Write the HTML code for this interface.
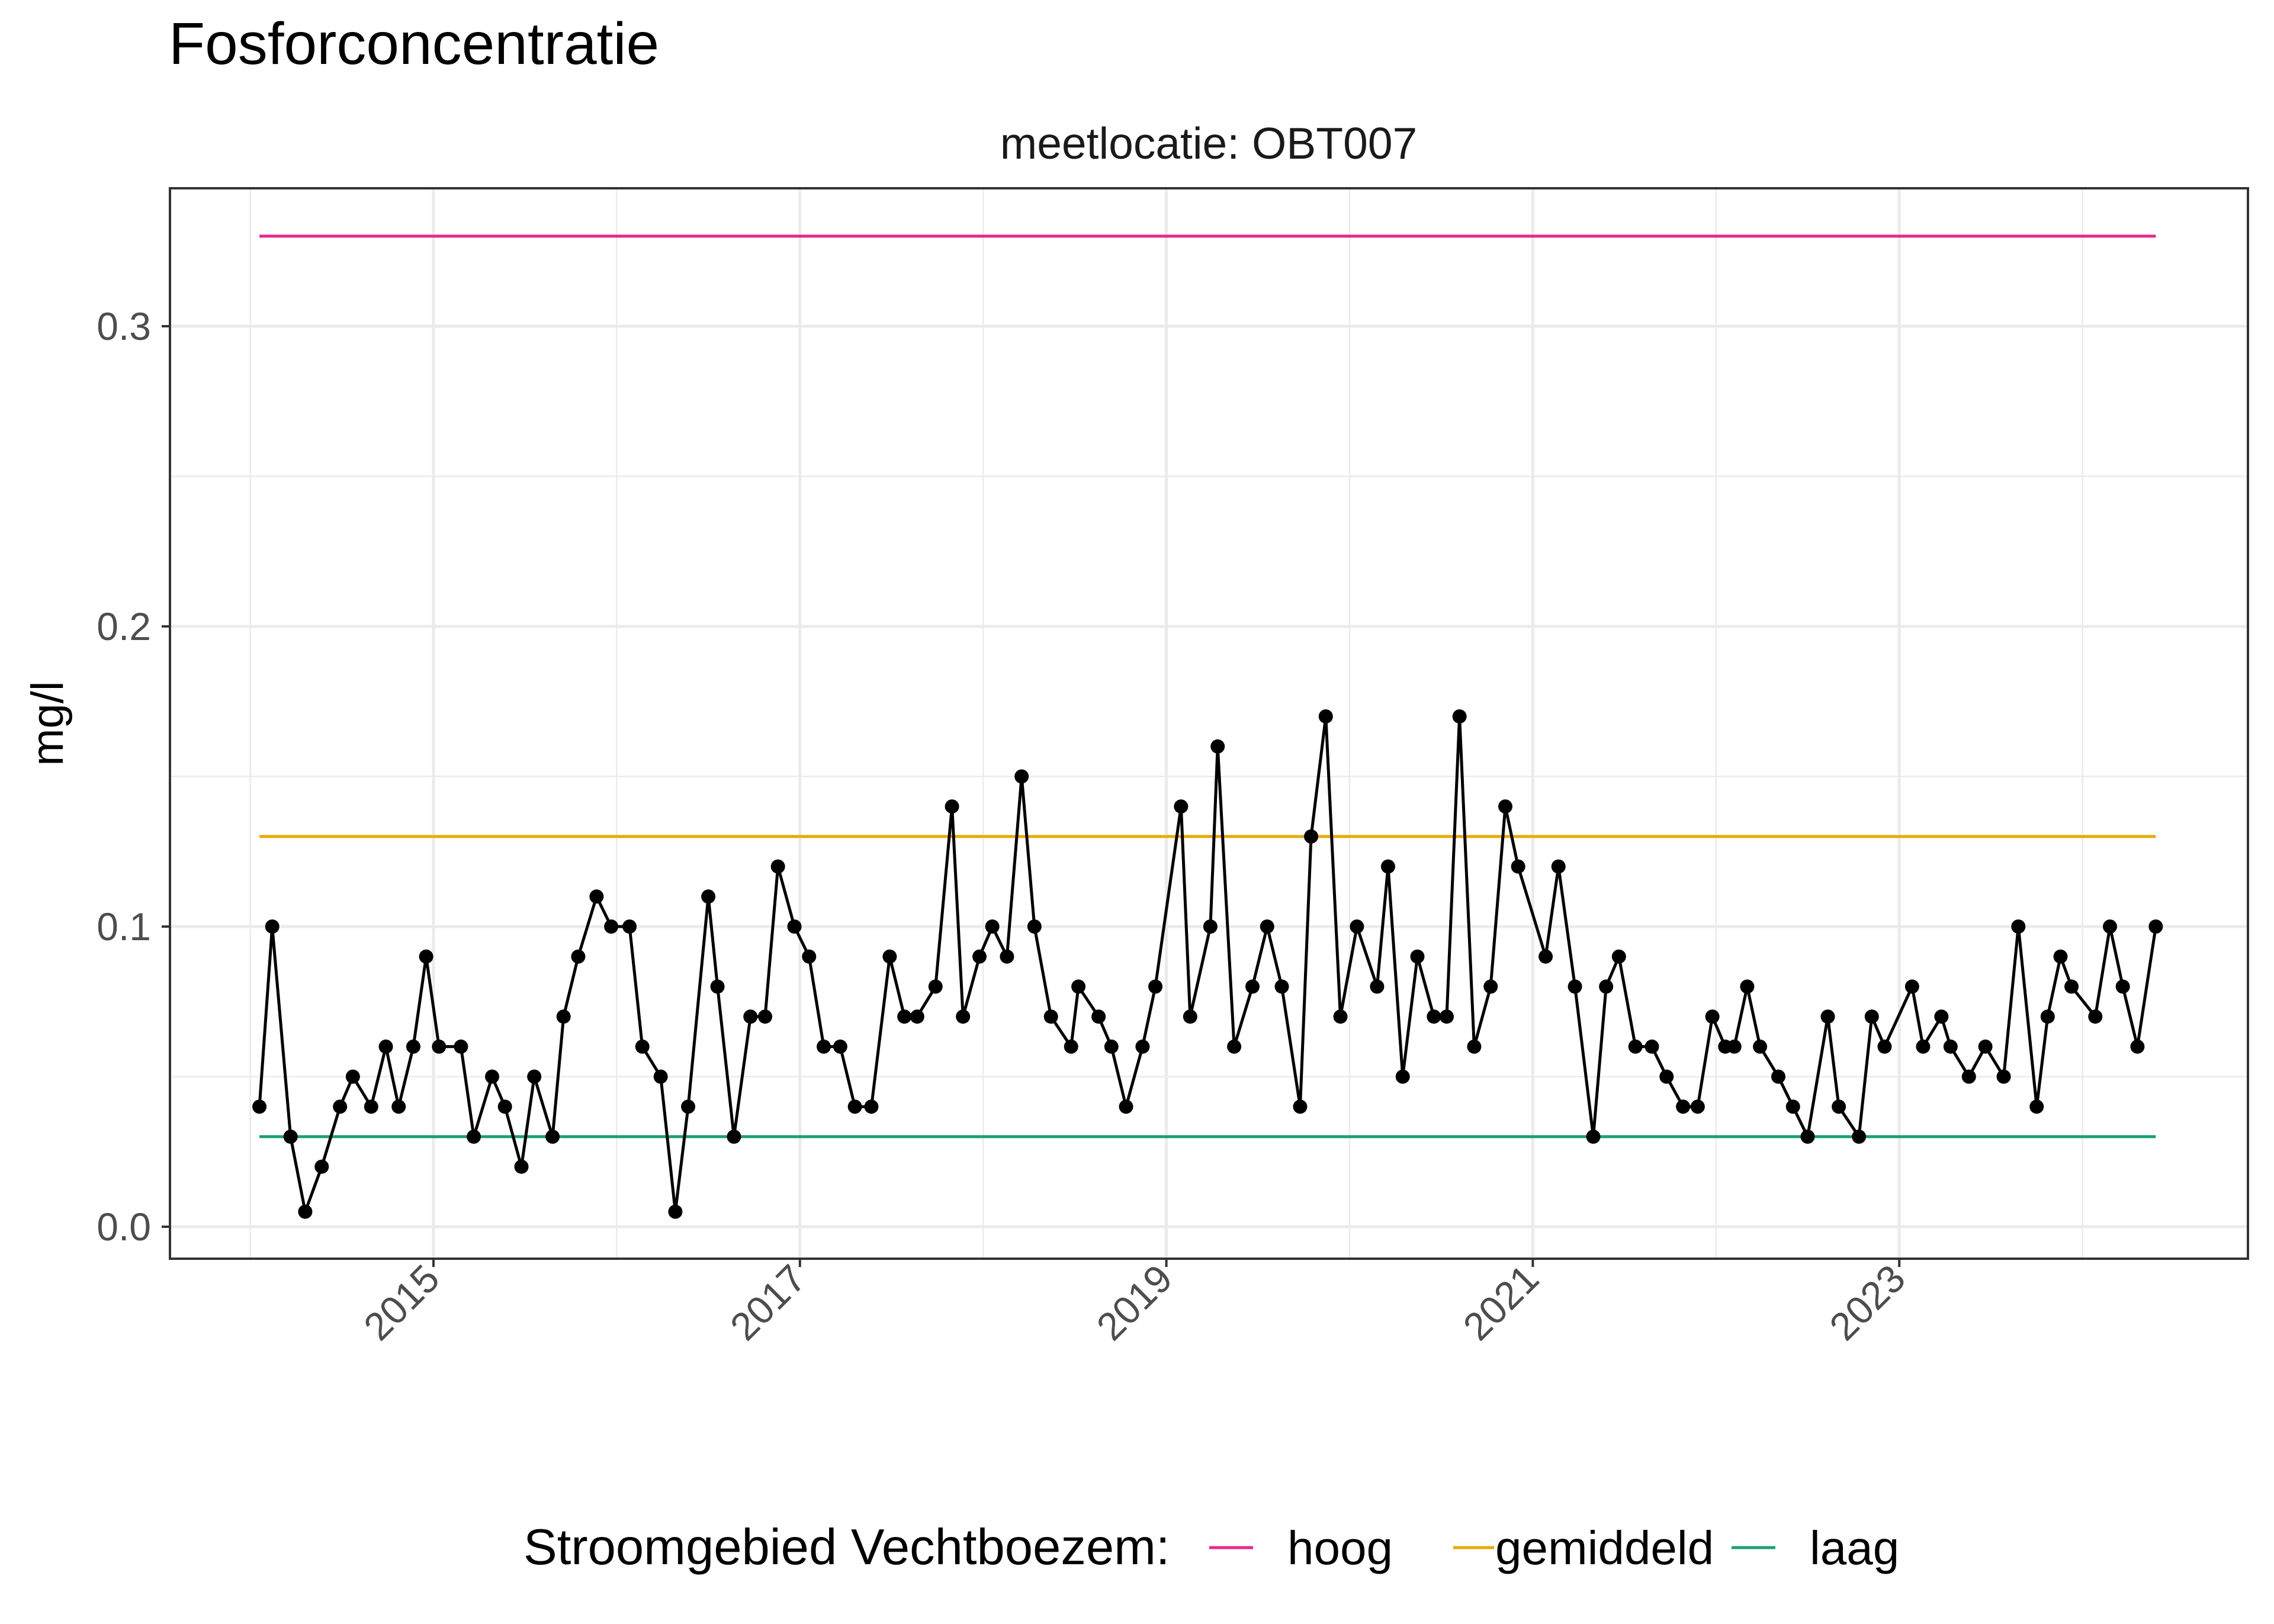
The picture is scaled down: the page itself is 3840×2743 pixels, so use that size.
<!DOCTYPE html>
<html><head><meta charset="utf-8"><style>
html,body{margin:0;padding:0;background:#fff;}
svg{display:block;font-family:"Liberation Sans",sans-serif;}
</style></head><body>
<svg id="chart" width="3840" height="2743" viewBox="0 0 3840 2743" xmlns="http://www.w3.org/2000/svg">
<rect width="3840" height="2743" fill="#fff"/>
<text x="285" y="108" font-size="100" fill="#000">Fosforconcentratie</text>
<text x="2041" y="268" font-size="75" text-anchor="middle" fill="#1a1a1a">meetlocatie: OBT007</text>
<g id="grid"></g>
<g id="refs"></g>
<g id="series"></g>
<rect x="287" y="318" width="3509" height="1808" fill="none" stroke="#333" stroke-width="4"/>
<g id="axes"></g>
<text transform="translate(106,1222) rotate(-90)" font-size="76" text-anchor="middle" fill="#000">mg/l</text>
<g>
<text x="884" y="2642" font-size="85" fill="#000">Stroomgebied Vechtboezem:</text>
<g><line x1="2042" y1="2614" x2="2116" y2="2614" stroke="#E7298A" stroke-width="5"/><text x="2174" y="2642" font-size="80" fill="#000">hoog</text></g>
<g><line x1="2454" y1="2614" x2="2523" y2="2614" stroke="#E6AB02" stroke-width="5"/><text x="2525" y="2642" font-size="80" fill="#000">gemiddeld</text></g>
<g><line x1="2924" y1="2614" x2="2998" y2="2614" stroke="#1B9E77" stroke-width="5"/><text x="3056" y="2642" font-size="80" fill="#000">laag</text></g>
</g>
</svg>
<script>
const dates=[2014.05,2014.12,2014.22,2014.30,2014.39,2014.49,2014.56,2014.66,2014.74,2014.81,2014.89,2014.96,2015.03,2015.15,2015.22,2015.32,2015.39,2015.48,2015.55,2015.65,2015.71,2015.79,2015.89,2015.97,2016.07,2016.14,2016.24,2016.32,2016.39,2016.50,2016.55,2016.64,2016.73,2016.81,2016.88,2016.97,2017.05,2017.13,2017.22,2017.30,2017.39,2017.49,2017.57,2017.64,2017.74,2017.83,2017.89,2017.98,2018.05,2018.13,2018.21,2018.28,2018.37,2018.48,2018.52,2018.63,2018.70,2018.78,2018.87,2018.94,2019.08,2019.13,2019.24,2019.28,2019.37,2019.47,2019.55,2019.63,2019.73,2019.79,2019.87,2019.95,2020.04,2020.15,2020.21,2020.29,2020.37,2020.46,2020.53,2020.60,2020.68,2020.77,2020.85,2020.92,2021.07,2021.14,2021.23,2021.33,2021.40,2021.47,2021.56,2021.65,2021.73,2021.82,2021.90,2021.98,2022.05,2022.10,2022.17,2022.24,2022.34,2022.42,2022.50,2022.61,2022.67,2022.78,2022.85,2022.92,2023.07,2023.13,2023.23,2023.28,2023.38,2023.47,2023.57,2023.65,2023.75,2023.81,2023.88,2023.94,2024.07,2024.15,2024.22,2024.30,2024.40];
const values=[0.04,0.1,0.03,0.005,0.02,0.04,0.05,0.04,0.06,0.04,0.06,0.09,0.06,0.06,0.03,0.05,0.04,0.02,0.05,0.03,0.07,0.09,0.11,0.1,0.1,0.06,0.05,0.005,0.04,0.11,0.08,0.03,0.07,0.07,0.12,0.1,0.09,0.06,0.06,0.04,0.04,0.09,0.07,0.07,0.08,0.14,0.07,0.09,0.1,0.09,0.15,0.1,0.07,0.06,0.08,0.07,0.06,0.04,0.06,0.08,0.14,0.07,0.1,0.16,0.06,0.08,0.1,0.08,0.04,0.13,0.17,0.07,0.1,0.08,0.12,0.05,0.09,0.07,0.07,0.17,0.06,0.08,0.14,0.12,0.09,0.12,0.08,0.03,0.08,0.09,0.06,0.06,0.05,0.04,0.04,0.07,0.06,0.06,0.08,0.06,0.05,0.04,0.03,0.07,0.04,0.03,0.07,0.06,0.08,0.06,0.07,0.06,0.05,0.06,0.05,0.1,0.04,0.07,0.09,0.08,0.07,0.1,0.08,0.06,0.1];
const refNames=["hoog","gemiddeld","laag"];
const refValues=[0.33,0.13,0.03];
const refColors=["#E7298A","#E6AB02","#1B9E77"];
const yTicks=[0,0.1,0.2,0.3];
const yTickLabels=["0.0","0.1","0.2","0.3"];
const yMinor=[0.05,0.15,0.25];
const xTicks=[2015,2017,2019,2021,2023];
const xMinor=[2014,2016,2018,2020,2022,2024];

const NS="http://www.w3.org/2000/svg";
const PL=287,PR=3796,PT=318,PB=2126;
function X(yr){return 732+(yr-2015)*309.4;}
function Y(v){return 2072-v*5070;}
function mk(tag,attrs,parent){const e=document.createElementNS(NS,tag);for(const k in attrs)e.setAttribute(k,attrs[k]);parent.appendChild(e);return e;}
const grid=document.getElementById('grid'),refs=document.getElementById('refs'),series=document.getElementById('series'),axes=document.getElementById('axes');
mk('rect',{x:PL,y:PT,width:PR-PL,height:PB-PT,fill:'#fff'},grid);
yMinor.forEach(v=>{const l=mk('line',{x1:PL,x2:PR,y1:Y(v),y2:Y(v),stroke:'#ebebeb','stroke-width':2.5},grid);

});
xMinor.forEach(t=>{const l=mk('line',{x1:X(t),x2:X(t),y1:PT,y2:PB,stroke:'#ebebeb','stroke-width':2.5},grid);

});
yTicks.forEach((v,i)=>{const l=mk('line',{x1:PL,x2:PR,y1:Y(v),y2:Y(v),stroke:'#ebebeb','stroke-width':5},grid);


const tk=mk('line',{x1:PL-14,x2:PL,y1:Y(v),y2:Y(v),stroke:'#333','stroke-width':4},axes);


const t=mk('text',{x:PL-32,y:Y(v)+23,'font-size':66,'text-anchor':'end',fill:'#4d4d4d'},axes);t.textContent=yTickLabels[i];

});
xTicks.forEach(t=>{const l=mk('line',{x1:X(t),x2:X(t),y1:PT,y2:PB,stroke:'#ebebeb','stroke-width':5},grid);


const tk=mk('line',{x1:X(t),x2:X(t),y1:PB,y2:PB+14,stroke:'#333','stroke-width':4},axes);


const tx=mk('text',{transform:`translate(${X(t)+14},${PB+38}) rotate(-45)`,'font-size':66,'text-anchor':'end',fill:'#4d4d4d'},axes);tx.textContent=String(t);

});
const x0=X(dates[0]),x1=X(dates[dates.length-1]);
refValues.forEach((v,i)=>{const l=mk('line',{x1:x0,x2:x1,y1:Y(v),y2:Y(v),stroke:refColors[i],'stroke-width':5},refs);

});
const pts=dates.map((d,i)=>X(d).toFixed(1)+','+Y(values[i]).toFixed(1)).join(' ');
const pl=mk('polyline',{points:pts,fill:'none',stroke:'#000','stroke-width':5,'stroke-linejoin':'round'},series);


dates.forEach((d,i)=>{const c=mk('circle',{cx:X(d),cy:Y(values[i]),r:12,fill:'#000'},series);

});
</script>
</body></html>
